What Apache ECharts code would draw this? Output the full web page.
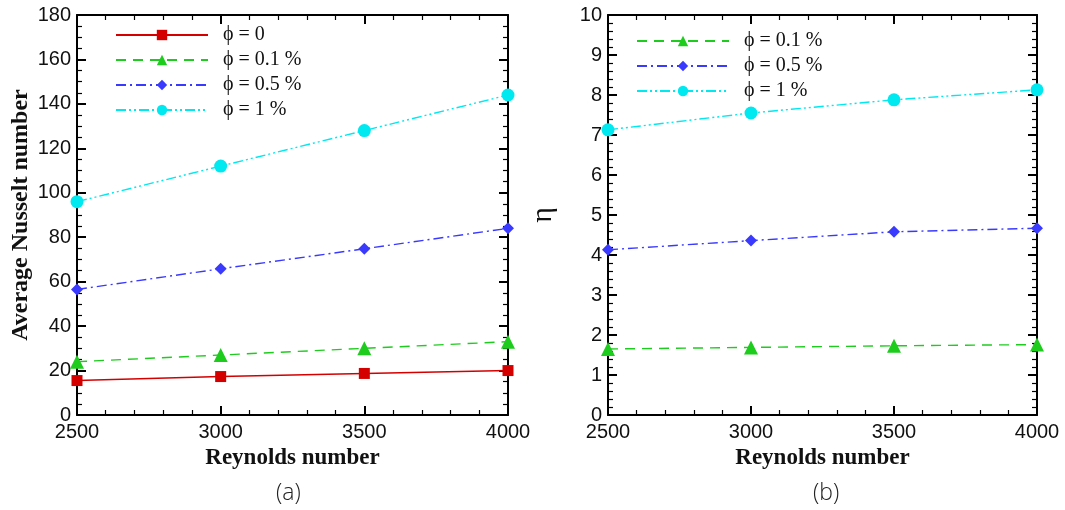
<!DOCTYPE html>
<html><head><meta charset="utf-8">
<script src="https://cdn.jsdelivr.net/npm/echarts@6/dist/echarts.min.js"></script>
<style>html,body{margin:0;padding:0;background:#fff}#c{width:1065px;height:510px}</style>
</head><body><div id="c"></div>
<script>
const reynolds = [2500, 3000, 3500, 4000];
const nuPhi0 = [15.5, 17.3, 18.7, 20.0];
const nuPhi01 = [24.0, 27.0, 30.0, 33.0];
const nuPhi05 = [56.5, 65.8, 74.8, 84.0];
const nuPhi1 = [96.0, 112.0, 128.0, 144.0];
const etaPhi01 = [1.65, 1.69, 1.73, 1.76];
const etaPhi05 = [4.13, 4.36, 4.58, 4.67];
const etaPhi1 = [7.13, 7.55, 7.88, 8.13];
const legendNames = ['\u03D5 = 0', '\u03D5 = 0.1 %', '\u03D5 = 0.5 %', '\u03D5 = 1 %'];

const C = {red:'#d40000', green:'#1ecc1e', blue:'#3a3aff', cyan:'#00e8f0'};
const pair = (ys) => reynolds.map((x,i)=>[x, ys[i]]);
const labelFont = {fontFamily:'Liberation Sans', fontSize:20, color:'#111'};
const tick = () => ({show:true, inside:true, length:9, lineStyle:{color:'#000', width:2}});
const minor = (n) => ({show:true, splitNumber:n, length:5, lineStyle:{color:'#000', width:1.2}});
const axLine = () => ({show:true, onZero:false, lineStyle:{color:'#000', width:2}});
const nameBold = (s) => ({fontFamily:'Liberation Serif', fontWeight:'bold', fontSize:s, color:'#111'});

function xAxes(gi){
  return [{
    gridIndex:gi, type:'value', min:2500, max:4000, interval:500, position:'bottom',
    axisLine:axLine(), axisTick:tick(), minorTick:minor(5), splitLine:{show:false},
    axisLabel:Object.assign({margin:7, formatter:(v)=>String(v)}, labelFont),
    name:'Reynolds number', nameLocation:'middle', nameGap:28, nameTextStyle:nameBold(23)
  },{
    gridIndex:gi, type:'value', min:2500, max:4000, interval:500, position:'top',
    axisLine:axLine(), axisTick:tick(), minorTick:minor(5), splitLine:{show:false}, axisLabel:{show:false}
  }];
}
function yAxes(gi, max, interval, split, name, nameGap, nameStyle){
  return [{
    gridIndex:gi, type:'value', min:0, max:max, interval:interval, position:'left',
    axisLine:axLine(), axisTick:tick(), minorTick:minor(split), splitLine:{show:false},
    axisLabel:Object.assign({margin:6}, labelFont),
    name:name, nameLocation:'middle', nameGap:nameGap, nameRotate:90, nameTextStyle:nameStyle
  },{
    gridIndex:gi, type:'value', min:0, max:max, interval:interval, position:'right',
    axisLine:axLine(), axisTick:tick(), minorTick:minor(split), splitLine:{show:false}, axisLabel:{show:false}
  }];
}
function ser(name, data, xi, yi, color, type, symbol, size){
  return {name:name, type:'line', xAxisIndex:xi, yAxisIndex:yi, data:pair(data), symbol:symbol, symbolSize:size,
    lineStyle:{color:color, width:1.4, type:type}, itemStyle:{color:color}};
}
const dash = [10,7], dashDot = [10,4,2,4], dashDotDot = [10,3,2,3,2,3];
const legendText = {fontFamily:'Liberation Serif', fontSize:20, color:'#111', padding:[0,0,0,10]};

const option = {
  animation:false,
  grid:[
    {left:77, right:557, top:15, bottom:95, containLabel:false, outerBoundsMode:'none'},
    {left:608, right:28, top:15, bottom:95, containLabel:false, outerBoundsMode:'none'}
  ],
  xAxis:[...xAxes(0), ...xAxes(1)],
  yAxis:[...yAxes(0,180,20,4,'Average Nusselt number',44,nameBold(24)),
         ...yAxes(1,10,1,5,'\u03B7',50,{fontFamily:'Liberation Serif', fontSize:30, color:'#111'})],
  legend:[{
    data:legendNames, left:115, top:25, padding:0, orient:'vertical', itemWidth:92, itemHeight:13, itemGap:5,
    textStyle:legendText
  },{
    data:legendNames.slice(1).map(n=>n+' '), left:636, top:31, padding:0, orient:'vertical', itemWidth:92, itemHeight:13, itemGap:5,
    textStyle:legendText
  }],
  series:[
    ser(legendNames[0], nuPhi0, 0, 0, C.red, 'solid', 'rect', 11),
    ser(legendNames[1], nuPhi01, 0, 0, C.green, dash, 'triangle', 14),
    ser(legendNames[2], nuPhi05, 0, 0, C.blue, dashDot, 'diamond', 12),
    ser(legendNames[3], nuPhi1, 0, 0, C.cyan, dashDotDot, 'circle', 13),
    ser(legendNames[1]+' ', etaPhi01, 2, 2, C.green, dash, 'triangle', 14),
    ser(legendNames[2]+' ', etaPhi05, 2, 2, C.blue, dashDot, 'diamond', 12),
    ser(legendNames[3]+' ', etaPhi1, 2, 2, C.cyan, dashDotDot, 'circle', 13)
  ],
  graphic:[
    {type:'text', left:276, top:482, style:{text:'(a)', font:'300 23px "Open Sans"', fill:'#222'}},
    {type:'text', left:813, top:482, style:{text:'(b)', font:'300 23px "Open Sans"', fill:'#222'}}
  ]
};
echarts.init(document.getElementById('c')).setOption(option);
</script></body></html>
